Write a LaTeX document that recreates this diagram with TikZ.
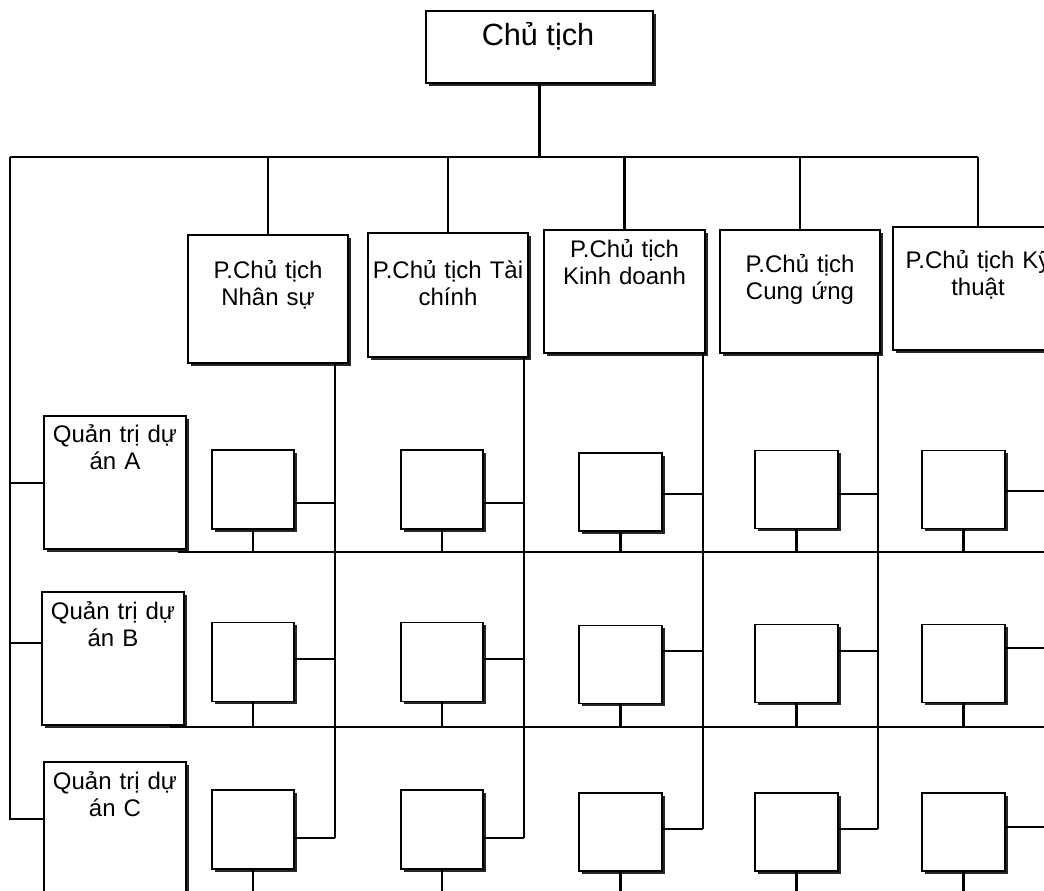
\documentclass[tikz,border=0pt]{standalone}
\usepackage{fontspec}
\setmainfont{Liberation Sans}
\usetikzlibrary{shadows,calc}
\begin{document}
\begin{tikzpicture}[x=0.75pt,y=-0.75pt,
  box/.style={draw, fill=white, line width=1.4pt, inner sep=0pt, outer sep=0pt,
    drop shadow={shadow xshift=2pt, shadow yshift=-2pt, fill=black!85, opacity=1}},
  conn/.style={line width=1.9pt},
  bigtext/.style={inner sep=0pt, font=\fontsize{23}{26}\selectfont},
  lbl/.style={inner sep=0pt, text width=220*0.75pt, align=center, font=\fontsize{18}{20.6}\selectfont}]
\useasboundingbox (0,0) rectangle (1044,890);
\fill[white] (0,0) rectangle (1044,890);
\clip (0,0) rectangle (1044,890);

% Chu tich
\node[box, minimum width=227*0.75pt, minimum height=72*0.75pt] (ct) at (539.5,47) {};
\node[bigtext, anchor=base] (t-ct) at (538,45) {Chủ tịch};

% bus
\coordinate (busL) at (10,157);
\coordinate (busR) at (978,157);

% vice presidents
\foreach \n/\cx/\cy/\w/\h/\bl/\vx/\vy/\txt in {
  1/268/299/160/128/278/335/838/{P.Chủ tịch\\Nhân sự},
  2/448/295/160/124/278/524/838/{P.Chủ tịch Tài\\chính},
  3/624.5/291.5/161/123/257/703/829/{P.Chủ tịch\\Kinh doanh},
  4/800/291.5/160/123/272/878/829/{P.Chủ tịch\\Cung ứng},
  5/978/288.5/170/123/268/1055/827/{P.Chủ tịch Kỹ\\thuật}}{
  \node[box, minimum width=\w*0.75pt, minimum height=\h*0.75pt] (vp\n) at (\cx,\cy) {};
  \node[lbl, anchor=base] (t-vp\n) at (\cx,\bl) {\txt};
  \coordinate (vt\n) at (vp\n.south -| \vx,0);
  \coordinate (vb\n) at (\vx,\vy);
}

% project managers
\node[box, minimum width=142*0.75pt, minimum height=133*0.75pt] (qa) at (115,482.5) {};
\node[box, minimum width=142*0.75pt, minimum height=133*0.75pt] (qb) at (113,658.5) {};
\node[box, minimum width=142*0.75pt, minimum height=133*0.75pt] (qc) at (115,828.5) {};
\node[lbl, anchor=base] (t-qa) at (115,442) {Quản trị dự\\án A};
\node[lbl, anchor=base] (t-qb) at (113,619) {Quản trị dự\\án B};
\node[lbl, anchor=base] (t-qc) at (115,789) {Quản trị dự\\án C};

% small boxes
\foreach \r/\cy/\cyc/\cyd in {A/489.5/492/489.5, B/662/664.5/663.5, C/829.5/832/832}{
  \node[box, minimum width=82*0.75pt, minimum height=79*0.75pt] (s-\r-1) at (253,\cy) {};
  \node[box, minimum width=82*0.75pt, minimum height=79*0.75pt] (s-\r-2) at (442,\cy) {};
  \node[box, minimum width=83*0.75pt, minimum height=78*0.75pt] (s-\r-3) at (620.5,\cyc) {};
  \node[box, minimum width=83*0.75pt, minimum height=78*0.75pt] (s-\r-4) at (796.5,\cyd) {};
  \node[box, minimum width=83*0.75pt, minimum height=78*0.75pt] (s-\r-5) at (963.5,\cyd) {};
}

% row lines
\coordinate (rowA) at (178,552);
\coordinate (rowAe) at (1060,552);
\coordinate (rowB) at (170,727);
\coordinate (rowBe) at (1060,727);
\coordinate (lc) at (10,819);

% connectors
\draw[conn] (ct.south) -- (ct.south |- busL);
\draw[conn] (busL) -- (busR);
\foreach \n in {1,...,5}{
  \draw[conn] (vp\n.north |- busL) -- (vp\n.north);
  \draw[conn] (vt\n) -- (vb\n);
}
\draw[conn] (busL) -- (lc) -- (qc.west |- lc);
\draw[conn] (busL |- 0,483) -- (qa.west |- 0,483);
\draw[conn] (busL |- 0,643) -- (qb.west |- 0,643);

\draw[conn] (rowA) -- (rowAe);
\draw[conn] (rowB) -- (rowBe);

\foreach \c in {1,...,5}{
  \draw[conn] (s-A-\c.south) -- (s-A-\c.south |- rowA);
  \draw[conn] (s-B-\c.south) -- (s-B-\c.south |- rowB);
  \draw[conn] (s-C-\c.south) -- ++(0,40);
}

\foreach \c/\ya/\yb/\yc in {1/503/659/838, 2/503/659/838, 3/494/651/829, 4/494/651/829, 5/491/648/827}{
  \draw[conn] (s-A-\c.east |- 0,\ya) -- (vt\c |- 0,\ya);
  \draw[conn] (s-B-\c.east |- 0,\yb) -- (vt\c |- 0,\yb);
  \draw[conn] (s-C-\c.east |- 0,\yc) -- (vb\c);
}
\end{tikzpicture}
\end{document}
